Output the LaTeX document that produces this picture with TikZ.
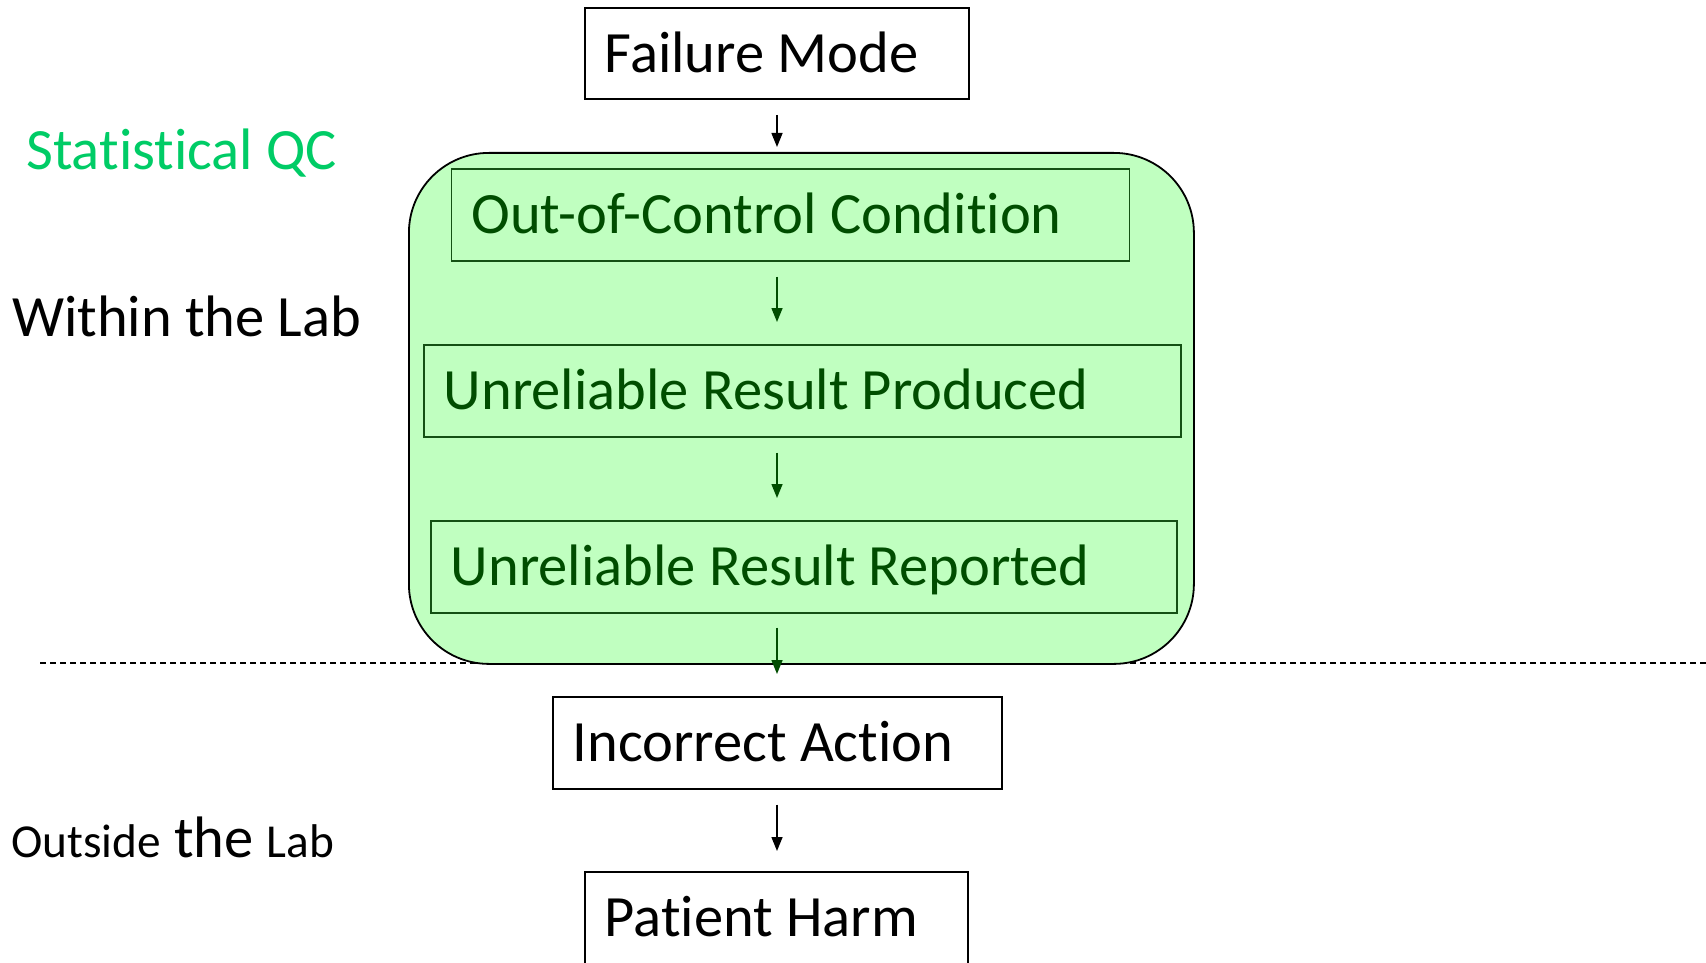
\documentclass[tikz,border=0pt]{standalone}
\usepackage{fontspec}
\setmainfont{Carlito}[Ligatures={NoCommon,NoContextual},Contextuals=NoAlternate]
\usetikzlibrary{arrows.meta}
\definecolor{qcfill}{RGB}{192,255,192}
\definecolor{qcdark}{RGB}{0,77,0}
\definecolor{qcline}{RGB}{20,80,20}
\definecolor{qcgreen}{RGB}{0,204,102}
\tikzset{
  big/.style={font=\fontsize{58.5}{70}\selectfont},
  flowbox/.style={draw=black, line width=1.5pt, fill=white, big, align=flush left,
    inner xsep=20pt, inner ysep=0pt, text height=40pt, text depth=2pt,
    anchor=north west},
  qcbox/.style={flowbox, draw=qcline, line width=1.8pt, fill=qcfill, text=qcdark},
  container/.style={draw=black, line width=1.8pt, fill=qcfill, rounded corners=80pt,
    anchor=north west, inner sep=0pt},
  arr/.style={line width=1.5pt, -{Triangle[width=11pt,length=14pt]}},
  qcarr/.style={arr, draw=qcdark, fill=qcdark},
  label/.style={anchor=base west, inner sep=0pt, big},
  divider/.style={dashed, dash pattern=on 6pt off 4pt, line width=1.4pt},
}
\begin{document}
\begin{tikzpicture}[x=1pt,y=-1pt]
\useasboundingbox (0,0) rectangle (1706,963);
% dashed divider
\coordinate (dl) at (40,663);
\coordinate (dr) at (1706,663);
\draw[divider] (dl) -- (dr);
% container
\node[container, minimum width=785pt, minimum height=511pt] (qc) at (408,152) {};
% boxes
\node[flowbox, minimum height=91pt, text width=344pt] (fm) at (584,7.5) {Failure Mode};
\node[qcbox, minimum height=92pt, text width=638pt] (ooc) at (450.5,168) {Out-of-Control Condition};
\node[qcbox, minimum height=92pt, text width=717pt] (urp) at (423,344) {Unreliable Result Produced};
\node[qcbox, minimum height=92pt, text width=706pt] (urr) at (430,520) {Unreliable Result Reported};
\node[flowbox, minimum height=92pt, text width=409pt] (ia) at (552,696) {Incorrect Action};
\node[flowbox, minimum height=92pt, text width=343pt] (ph) at (584,871) {Patient Harm};
% side labels
\node[label, text=qcgreen] (sqc) at (26,170) {Statistical QC};
\node[label] (wl) at (12,336) {Within the Lab};
\node[label] (ol) at (11,857) {{\fontsize{47.3}{57}\selectfont Outside} the {\fontsize{47.3}{57}\selectfont Lab}};
% arrows
\coordinate (ax) at (777,0);
\draw[arr, shorten <=15pt, shorten >=5pt] (fm.south -| ax) -- (qc.north -| ax);
\draw[qcarr, shorten <=15pt, shorten >=22pt] (ooc.south -| ax) -- (urp.north -| ax);
\draw[qcarr, shorten <=15pt, shorten >=22pt] (urp.south -| ax) -- (urr.north -| ax);
\draw[qcarr, shorten <=14pt, shorten >=22pt] (urr.south -| ax) -- (ia.north -| ax);
\draw[arr, shorten <=15pt, shorten >=20pt] (ia.south -| ax) -- (ph.north -| ax);
\end{tikzpicture}
\end{document}
